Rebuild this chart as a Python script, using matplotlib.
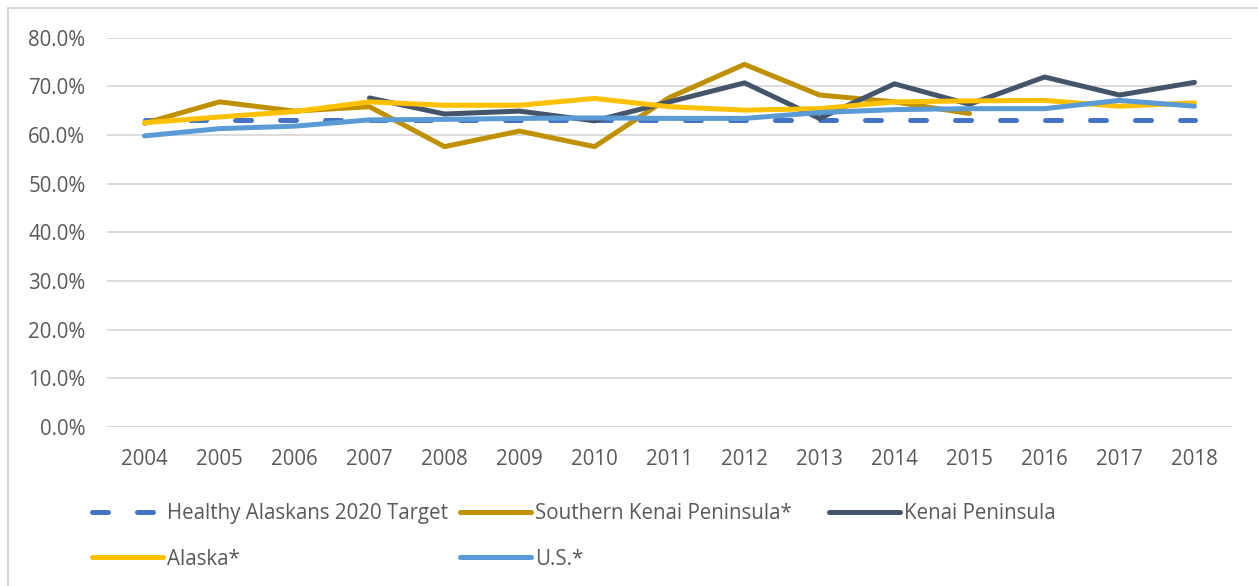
import numpy as np
import matplotlib
matplotlib.use("Agg")
import matplotlib.pyplot as plt
from matplotlib.patches import Rectangle
from matplotlib.ticker import FuncFormatter

years = [str(y) for y in range(2004, 2019)]
nan = np.nan
target = [63.0] * 15
southern_kenai = [62.4, 66.8, 64.9, 65.8, 57.6, 60.8, 57.6, 67.7, 74.5, 68.2, 66.8, 64.4, nan, nan, nan]
kenai = [nan, nan, nan, 67.6, 64.3, 64.9, 62.9, 66.8, 70.7, 63.4, 70.5, 66.3, 71.9, 68.2, 70.8]
alaska = [62.5, 63.7, 64.8, 66.8, 66.1, 66.1, 67.5, 65.8, 65.1, 65.4, 66.8, 67.0, 67.1, 65.9, 66.6]
us = [59.8, 61.3, 61.8, 63.1, 63.2, 63.4, 63.5, 63.4, 63.4, 64.6, 65.2, 65.4, 65.4, 67.1, 65.9]

labels = ["Healthy Alaskans 2020 Target", "Southern Kenai Peninsula*", "Kenai Peninsula", "Alaska*", "U.S.*"]
colors = ["#4472C4", "#BF9000", "#44546A", "#FFC000", "#5B9BD5"]

plt.rcParams['font.family'] = ['Open Sans', 'DejaVu Sans']
txt = "#595959"
fs = 14.8

fig = plt.figure(figsize=(12.58, 5.86), dpi=100)
ax = fig.add_axes([107/1258, 1 - 427/586, 1125/1258, (427 - 37.6)/586])

x = np.arange(len(years))
lw = 3.6
series = [target, southern_kenai, kenai, alaska, us]
handles = []
for i, (s, c, lab) in enumerate(zip(series, colors, labels)):
    if i == 0:
        ln, = ax.plot(x, s, color=c, lw=lw, dashes=(3.2, 5.8), dash_capstyle='round',
                      solid_capstyle='round', label=lab, zorder=3)
    else:
        ln, = ax.plot(x, s, color=c, lw=lw, solid_capstyle='round', solid_joinstyle='round',
                      label=lab, zorder=3 + i)
    handles.append(ln)

ax.set_xlim(-0.5, len(years) - 0.5)
ax.set_ylim(0, 80)
ax.set_yticks(np.arange(0, 81, 10))
ax.yaxis.set_major_formatter(FuncFormatter(lambda v, p: f"{v:.1f}%"))
ax.set_xticks(x)
ax.set_xticklabels(years)
ax.grid(axis='y', color='#D9D9D9', lw=1.3)
ax.set_axisbelow(True)
for sp in ax.spines.values():
    sp.set_visible(False)
ax.tick_params(length=0, labelsize=fs, colors=txt)
ax.tick_params(axis='y', pad=15.5)
ax.tick_params(axis='x', pad=15.5)

# figure frame
fig.patches.append(Rectangle((8/1258, -0.1), 1.2, 1 - 8/586 + 0.1, transform=fig.transFigure,
                             fill=False, edgecolor='#D9D9D9', lw=1.5))

cols = [(92, [0, 3]), (460, [1, 4]), (829, [2])]
for xpx, idxs in cols:
    hs = [handles[i] for i in idxs]
    ls = [labels[i] for i in idxs]
    fig.legend(hs, ls, loc='upper left', bbox_to_anchor=(xpx/1258, 1 - 503/586),
               frameon=False, fontsize=fs, labelcolor=txt, handlelength=3.45,
               handletextpad=0.2, labelspacing=1.2, borderaxespad=0, borderpad=0)

fig.savefig("out.png", dpi=100)
